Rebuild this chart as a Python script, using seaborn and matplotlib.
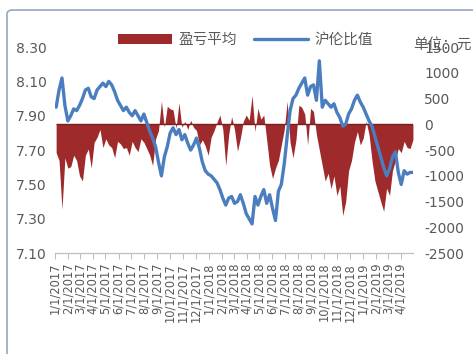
import matplotlib
matplotlib.use("Agg")
import matplotlib.pyplot as plt
import matplotlib.dates as mdates
from matplotlib.patches import Patch, FancyBboxPatch
from matplotlib.lines import Line2D
from matplotlib.ticker import FuncFormatter
import pandas as pd
import seaborn as sns

# Roughly weekly observations between these two dates
first_day = "2017-01-04"
last_day = "2019-04-30"

# 沪伦比值 (SHFE / LME price ratio)
ratio = [
    7.95, 8.05, 8.12, 7.96, 7.87, 7.90, 7.94, 7.93, 7.96, 8.00,
    8.05, 8.06, 8.01, 8.00, 8.05, 8.07, 8.09, 8.07, 8.10, 8.08,
    8.04, 7.99, 7.96, 7.93, 7.95, 7.92, 7.90, 7.93, 7.90, 7.87,
    7.91, 7.86, 7.81, 7.77, 7.72, 7.63, 7.55, 7.66, 7.72, 7.80,
    7.83, 7.79, 7.82, 7.76, 7.79, 7.74, 7.70, 7.73, 7.77, 7.71,
    7.63, 7.58, 7.56, 7.55, 7.53, 7.51, 7.47, 7.42, 7.38, 7.42,
    7.43, 7.39, 7.40, 7.44, 7.39, 7.33, 7.30, 7.27, 7.43, 7.38,
    7.43, 7.47, 7.39, 7.44, 7.36, 7.29, 7.46, 7.50, 7.62, 7.78,
    7.93, 8.00, 8.02, 8.06, 8.09, 8.12, 8.02, 8.07, 8.08, 7.99,
    8.22, 7.95, 7.99, 7.97, 7.95, 7.97, 7.92, 7.89, 7.84, 7.85,
    7.91, 7.94, 7.99, 8.02, 7.98, 7.95, 7.91, 7.87, 7.84, 7.78,
    7.72, 7.66, 7.60, 7.55, 7.59, 7.66, 7.69, 7.57, 7.50, 7.58,
    7.56, 7.57, 7.57,
]

# 盈亏平均 (average import profit / loss, yuan per tonne)
profit = [
    -550, -700, -1650, -650, -850, -820, -600, -700, -1000, -1100,
    -600, -480, -850, -350, -250, -100, -450, -280, -400, -450,
    -650, -330, -380, -470, -450, -600, -330, -450, -530, -280,
    -350, -470, -600, -800, -280, -120, 450, -60, 350, 300,
    280, -80, 420, -60, 60, -100, 80, -60, -120, -400,
    -300, -420, -600, -250, -120, 40, 180, -100, -800, -200,
    150, -100, -520, -270, 60, 180, 80, 560, -140, 310,
    100, 180, -300, -800, -1050, -850, -700, -400, -100, 450,
    -350, -650, -300, 370, 330, 200, -400, 310, 250, -200,
    -500, -800, -1100, -950, -1250, -1000, -1380, -1200, -1770, -1500,
    -900, -700, -350, -140, -400, -270, 60, -200, -700, -1100,
    -1300, -1500, -1690, -1240, -1380, -900, -700, -470, -550, -330,
    -450, -470, -300,
]

legend_labels = ["盈亏平均", "沪伦比值"]
unit_label = "单位：元"
ratio_ticks = [7.10, 7.30, 7.50, 7.70, 7.90, 8.10, 8.30]
profit_ticks = [-2500, -2000, -1500, -1000, -500, 0, 500, 1000, 1500]

dates = pd.date_range(first_day, last_day, periods=len(ratio))
df = pd.DataFrame({"date": dates, "ratio": ratio, "profit": profit})

RED = "#9E2A2B"
BLUE = "#4A7EBF"
TEXT = "#595959"
AXIS = "#BFBFBF"

sns.set_theme(style="white")
plt.rcParams["font.family"] = ["DejaVu Sans", "Noto Sans CJK SC"]
plt.rcParams["axes.unicode_minus"] = False

fig = plt.figure(figsize=(4.73, 3.54), dpi=100)

# Profit area on the right-hand scale
ax = fig.add_axes([0.116, 0.285, 0.757, 0.582])
ax.fill_between(df["date"], 0, df["profit"], color=RED, lw=0, zorder=2)
ax.hlines(0, df["date"].iloc[0], df["date"].iloc[-1], color="#7A1F1F", lw=1.0, zorder=3)
ax.set_ylim(profit_ticks[0], profit_ticks[-1])
ax.set_xlim(pd.Timestamp("2017-01-01"), pd.Timestamp(last_day))

# Ratio line on the left-hand scale, drawn above the area
ax2 = ax.twinx()
sns.lineplot(data=df, x="date", y="ratio", ax=ax2, color=BLUE, lw=2.4, zorder=4)
ax2.set_ylim(ratio_ticks[0], ratio_ticks[-1])

ax.yaxis.tick_right()
ax.yaxis.set_label_position("right")
ax2.yaxis.tick_left()
ax2.yaxis.set_label_position("left")
ax.set_yticks(profit_ticks)
ax2.set_yticks(ratio_ticks)
ax2.yaxis.set_major_formatter(FuncFormatter(lambda v, _: f"{v:.2f}"))
ax.yaxis.set_major_formatter(FuncFormatter(lambda v, _: f"{int(v)}"))
for a in (ax, ax2):
    a.set_xlabel("")
    a.set_ylabel("")
    for s in a.spines.values():
        s.set_visible(False)
ax.spines["bottom"].set_visible(True)
ax.spines["bottom"].set_color(AXIS)
ax.spines["bottom"].set_linewidth(0.9)

ax.tick_params(axis="y", length=0, labelsize=10, labelcolor=TEXT, pad=8)
ax2.tick_params(axis="y", length=0, labelsize=10, labelcolor=TEXT, pad=6)

ax.xaxis.set_major_locator(mdates.MonthLocator(bymonthday=1))
ax.xaxis.set_major_formatter(
    FuncFormatter(lambda v, _: (lambda d: f"{d.month}/{d.day}/{d.year}")(mdates.num2date(v)))
)
ax.tick_params(axis="x", direction="out", length=4, width=0.8, color=AXIS,
               labelsize=8.3, labelcolor=TEXT, pad=3, labelrotation=90, bottom=True)
ax2.tick_params(axis="x", bottom=False, labelbottom=False)

handles = [Patch(facecolor=RED, edgecolor="none"), Line2D([], [], color=BLUE, lw=2.4)]
fig.legend(handles, legend_labels, loc="center", bbox_to_anchor=(0.519, 0.888), ncol=2,
           frameon=False, fontsize=10.5, handlelength=3.7, handletextpad=0.4,
           columnspacing=1.2, labelcolor=TEXT)

fig.text(0.873, 1 - 44 / 354, unit_label, ha="left", va="center", fontsize=10.5, color=TEXT)

# Chart-area frame
frame = FancyBboxPatch((7 / 473, -0.05), 1.1, 0.05 + 1 - 10 / 354,
                       boxstyle="round,pad=0,rounding_size=0.012",
                       transform=fig.transFigure, facecolor="none",
                       edgecolor="#93A8C2", lw=1.2, clip_on=False)
fig.patches.append(frame)

fig.savefig("out.png", dpi=100)
